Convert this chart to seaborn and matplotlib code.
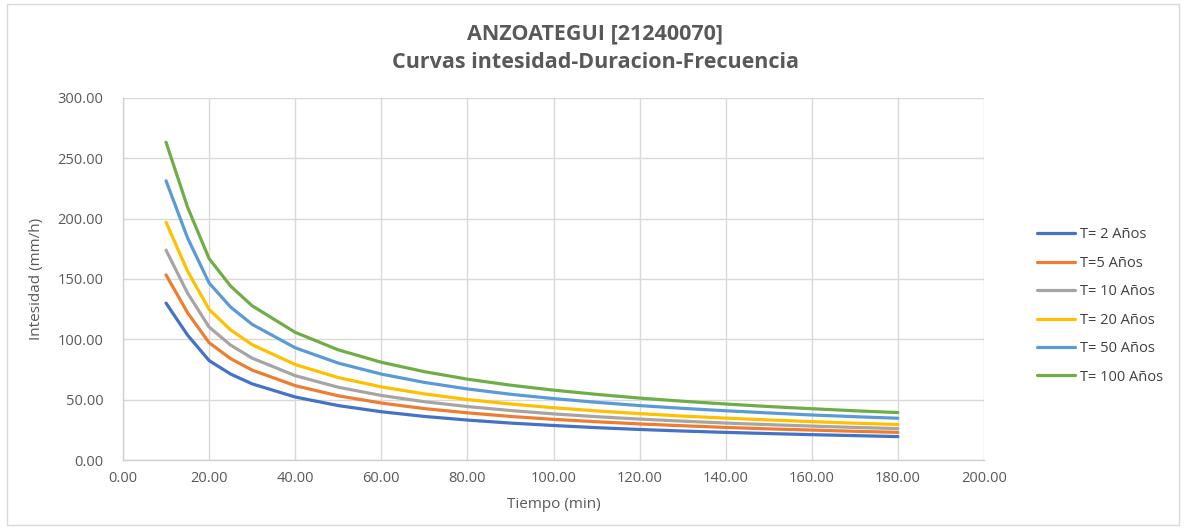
import numpy as np
import pandas as pd
import matplotlib
matplotlib.use("Agg")
import matplotlib.pyplot as plt
import seaborn as sns
from matplotlib.patches import Rectangle

# Duration (min) and intensity (mm/h) for each return period
duracion = [10, 15, 20, 25, 30, 40, 50, 60, 70, 80, 90, 100, 110, 120, 130, 140, 150, 160, 170, 180]

t2 = [130.0, 103.5, 82.4, 71.2, 63.1, 52.2, 45.1, 40.0, 36.1, 33.1, 30.6, 28.6, 26.8, 25.3, 24.0, 22.9, 21.9, 21.0, 20.2, 19.4]
t5 = [153.4, 122.0, 97.2, 84.0, 74.5, 61.6, 53.2, 47.2, 42.6, 39.1, 36.1, 33.7, 31.7, 29.9, 28.4, 27.0, 25.8, 24.8, 23.8, 22.9]
t10 = [173.9, 138.3, 110.2, 95.2, 84.4, 69.9, 60.3, 53.5, 48.3, 44.3, 41.0, 38.2, 35.9, 33.9, 32.2, 30.6, 29.3, 28.1, 27.0, 26.0]
t20 = [197.0, 156.5, 124.8, 107.8, 95.6, 79.1, 68.3, 60.6, 54.8, 50.1, 46.4, 43.3, 40.7, 38.4, 36.4, 34.7, 33.2, 31.8, 30.5, 29.4]
t50 = [231.4, 184.0, 146.7, 126.7, 112.4, 93.0, 80.3, 71.2, 64.3, 58.9, 54.5, 50.9, 47.8, 45.1, 42.8, 40.8, 39.0, 37.3, 35.9, 34.6]
t100 = [263.3, 209.5, 166.9, 144.1, 127.8, 105.8, 91.3, 81.0, 73.2, 67.0, 62.0, 57.9, 54.4, 51.3, 48.7, 46.4, 44.3, 42.5, 40.8, 39.3]

series_names = ["T= 2 Años", "T=5 Años", "T= 10 Años", "T= 20 Años", "T= 50 Años", "T= 100 Años"]
series_values = [t2, t5, t10, t20, t50, t100]
colors = ["#4472C4", "#ED7D31", "#A5A5A5", "#FFC000", "#5B9BD5", "#70AD47"]

x_ticks = [0, 20, 40, 60, 80, 100, 120, 140, 160, 180, 200]
y_ticks = [0, 50, 100, 150, 200, 250, 300]

rows = []
for name, vals in zip(series_names, series_values):
    for d, v in zip(duracion, vals):
        rows.append({"Tiempo": d, "Intensidad": v, "Serie": name})
df = pd.DataFrame(rows)

sns.set_theme(style="white")
plt.rcParams["font.family"] = ["Open Sans", "DejaVu Sans"]

W, H = 1186, 529
fig = plt.figure(figsize=(W / 100, H / 100), dpi=100)
ax = fig.add_axes([123 / W, (H - 460) / H, (984 - 123) / W, (460 - 98) / H])

sns.lineplot(data=df, x="Tiempo", y="Intensidad", hue="Serie",
             hue_order=series_names, palette=colors, linewidth=2.3,
             ax=ax, legend=True)
for line in ax.get_lines():
    line.set_solid_joinstyle("round")
    line.set_solid_capstyle("round")

ax.set_xlim(0, 200)
ax.set_ylim(0, 300)
ax.set_xticks(x_ticks)
ax.set_yticks(y_ticks)
ax.set_xticklabels([f"{v:.2f}" for v in x_ticks])
ax.set_yticklabels([f"{v:.2f}" for v in y_ticks])
ax.tick_params(axis="both", length=0, labelsize=10.5, labelcolor="#595959")
ax.tick_params(axis="x", pad=8)
ax.tick_params(axis="y", pad=14)

ax.grid(True, color="#D9D9D9", linewidth=1.0)
ax.set_axisbelow(True)
for side in ["top", "right"]:
    ax.spines[side].set_visible(False)
for side in ["left", "bottom"]:
    ax.spines[side].set_color("#D0D0D0")
    ax.spines[side].set_linewidth(1.0)

ax.set_xlabel("Tiempo (min)", fontsize=11, color="#595959", labelpad=8)
ax.set_ylabel("Intesidad (mm/h)", fontsize=11, color="#595959", labelpad=10)

handles, labels = ax.get_legend_handles_labels()
leg = ax.legend(handles, labels, loc="center left",
                bbox_to_anchor=(1031 / W, (H - 306) / H),
                bbox_transform=fig.transFigure, frameon=False,
                fontsize=10.5, handlelength=2.6, handletextpad=0.35,
                labelspacing=0.92, borderaxespad=0)
for t in leg.get_texts():
    t.set_color("#404040")
for line in leg.get_lines():
    line.set_linewidth(2.3)

fig.text(0.502, 1 - 34 / H, "ANZOATEGUI [21240070]", ha="center", va="center",
         fontsize=15.5, fontweight="bold", color="#595959")
fig.text(0.502, 1 - 63 / H, "Curvas intesidad-Duracion-Frecuencia", ha="center",
         va="center", fontsize=15.5, fontweight="bold", color="#595959")

fig.patches.append(Rectangle((7 / W, 4 / H), (W - 14) / W, (H - 8) / H,
                             transform=fig.transFigure, fill=False,
                             edgecolor="#D9D9D9", linewidth=1.0))

fig.savefig("out.png", dpi=100, facecolor="white")
